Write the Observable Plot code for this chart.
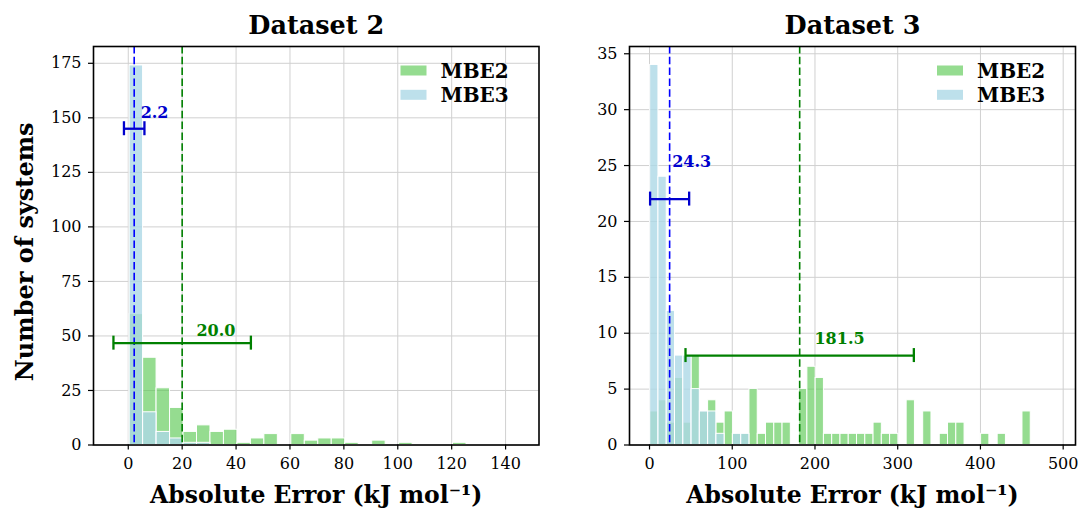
<!DOCTYPE html>
<html><head><meta charset="utf-8">
<script src="https://cdn.jsdelivr.net/npm/d3@7"></script>
<script src="https://cdn.jsdelivr.net/npm/@observablehq/plot@0.6"></script>
<style>
html,body{margin:0;padding:0;background:#fff;}
#chart{position:relative;width:1081px;height:509px;display:flex;}
#chart svg{display:block;}
</style></head><body><div id="chart"></div>
<script>
// ---------- Data ----------
const seriesNames = ["MBE2", "MBE3"];
const titles = ["Dataset 2", "Dataset 3"];
const xLabel = "Absolute Error (kJ mol⁻¹)";
const yLabel = "Number of systems";

// Dataset 2 histogram (bin left edges, bin width 5)
const ds2Edges = [0.5,5.5,10.5,15.5,20.5,25.5,30.5,35.5,40.5,45.5,50.5,55.5,60.5,65.5,70.5,75.5,80.5,85.5,90.5,95.5,100.5,105.5,110.5,115.5,120.5];
const ds2BinWidth = 5;
const ds2MBE2 = [60,40,26,17,6,9,6,7,1,3,5,0,5,2,3,3,1,0,2,0,1,0,0,0,1];
const ds2MBE3 = [174,15,6,3,1,1,0,0,0,0,0,0,0,0,0,0,0,0,0,0,0,0,0,0,0];
const ds2Mean = {MBE2: 20.0, MBE3: 2.2};
const ds2Std = {MBE2: 25.5, MBE3: 3.8};
const ds2ErrY = {MBE2: 46.7, MBE3: 145};
const ds2LabelX = {MBE2: 25.3, MBE3: 4.6};
const ds2LabelY = {MBE2: 50, MBE3: 150};
const ds2XTicks = [0,20,40,60,80,100,120,140];
const ds2YTicks = [0,25,50,75,100,125,150,175];

// Dataset 3 histogram (bin left edges, bin width 10)
const ds3Edges = [0.8,10.8,20.8,30.8,40.8,50.8,60.8,70.8,80.8,90.8,100.8,110.8,120.8,130.8,140.8,150.8,160.8,170.8,180.8,190.8,200.8,210.8,220.8,230.8,240.8,250.8,260.8,270.8,280.8,290.8,300.8,310.8,320.8,330.8,340.8,350.8,360.8,370.8,380.8,390.8,400.8,410.8,420.8,430.8,440.8,450.8];
const ds3BinWidth = 10;
const ds3MBE2 = [3,4,2,6,2,8,3,4,2,3,1,1,5,1,2,2,2,0,5,7,6,1,1,1,1,1,1,2,1,1,0,4,0,3,0,1,2,2,0,0,1,0,1,0,0,3];
const ds3MBE3 = [34,24,12,8,8,5,3,3,1,0,1,1,0,0,0,0,0,0,0,0,0,0,0,0,0,0,0,0,0,0,0,0,0,0,0,0,0,0,0,0,0,0,0,0,0,0];
const ds3Mean = {MBE2: 181.5, MBE3: 24.3};
const ds3Std = {MBE2: 138, MBE3: 23.6};
const ds3ErrY = {MBE2: 8, MBE3: 22};
const ds3LabelX = {MBE2: 199.4, MBE3: 27.4};
const ds3LabelY = {MBE2: 9.05, MBE3: 24.9};
const ds3XTicks = [0,100,200,300,400,500];
const ds3YTicks = [0,5,10,15,20,25,30,35];

// ---------- Styles ----------
const GREEN_FILL = "#5cc955", GREEN_OP = 0.65;
const BLUE_FILL = "#add8e6", BLUE_OP = 0.8;
const LINE_COL = {MBE2: "#008000", MBE3: "#0000ff"};
const ERR_COL = {MBE2: "#008000", MBE3: "#0000cd"};
const FONT = "DejaVu Serif";

const patchSymbol = {draw(ctx){ ctx.rect(-13, -5, 26, 10); }};

function panel(cfg) {
  const bars = (edges, counts, bw) => edges.map((e, i) => ({x1: e, x2: e + bw, y: counts[i]})).filter(d => d.y > 0);
  const b2 = bars(cfg.edges, cfg.mbe2, cfg.bw);
  const b3 = bars(cfg.edges, cfg.mbe3, cfg.bw);
  const stats = seriesNames.map(s => ({s, mean: cfg.mean[s], lo: cfg.mean[s] - cfg.std[s], hi: cfg.mean[s] + cfg.std[s], y: cfg.errY[s], lx: cfg.labelX[s], ly: cfg.labelY[s], label: cfg.mean[s].toFixed(1)}));
  const caps = stats.flatMap(d => [{s: d.s, x: d.lo, y: d.y}, {s: d.s, x: d.hi, y: d.y}]);
  const legend = [{s: "MBE2", fill: GREEN_FILL, op: GREEN_OP, dy: 24}, {s: "MBE3", fill: BLUE_FILL, op: BLUE_OP, dy: 48.3}];
  const marks = [
    Plot.gridX(cfg.xTicks, {stroke: "#d0d0d0", strokeOpacity: 1, strokeWidth: 1}),
    Plot.gridY(cfg.yTicks, {stroke: "#d0d0d0", strokeOpacity: 1, strokeWidth: 1}),
    Plot.rectY(b2, {x1: "x1", x2: "x2", y: "y", fill: GREEN_FILL, fillOpacity: GREEN_OP, stroke: "white", strokeWidth: 1}),
    Plot.rectY(b3, {x1: "x1", x2: "x2", y: "y", fill: BLUE_FILL, fillOpacity: BLUE_OP, stroke: "white", strokeWidth: 1}),
    Plot.ruleX(stats, {x: "mean", stroke: d => LINE_COL[d.s], strokeWidth: 1.6, strokeDasharray: "7.5,3.3"}),
    Plot.ruleY(stats, {y: "y", x1: "lo", x2: "hi", stroke: d => ERR_COL[d.s], strokeWidth: 2.3}),
    Plot.ruleX(caps, {x: "x", y1: "y", y2: "y", insetTop: -7, insetBottom: -7, stroke: d => ERR_COL[d.s], strokeWidth: 2.3}),
    Plot.text(stats, {x: "lx", y: "ly", text: "label", fill: d => ERR_COL[d.s], textAnchor: "start", lineAnchor: "bottom", fontSize: 16, fontWeight: "bold", fontFamily: FONT}),
    Plot.axisX(cfg.xTicks, {tickSize: 5, tickPadding: 8, fontSize: 16, fontFamily: FONT, strokeWidth: 1.2, label: null}),
    Plot.axisY(cfg.yTicks, {tickSize: 5, tickPadding: 7, fontSize: 16, fontFamily: FONT, strokeWidth: 1.2, label: null}),
    Plot.frame({stroke: "black", strokeWidth: 1.6}),
    Plot.text([cfg.title], {frameAnchor: "top", dy: -13, lineAnchor: "bottom", fontSize: 25.5, fontWeight: "bold", fontFamily: FONT, letterSpacing: "1.1px"}),
    Plot.text([xLabel], {frameAnchor: "bottom", dy: 57.5, lineAnchor: "bottom", fontSize: 23.5, fontWeight: "bold", fontFamily: FONT, letterSpacing: "1.4px"})
  ];
  legend.forEach(l => {
    marks.push(Plot.dot([l], {frameAnchor: "top-right", dx: -125.5, dy: l.dy, symbol: patchSymbol, fill: l.fill, fillOpacity: l.op, r: 5}));
    marks.push(Plot.text([l.s], {frameAnchor: "top-right", dx: -98.5, dy: l.dy + 7, textAnchor: "start", lineAnchor: "bottom", fontSize: 20, fontWeight: "bold", fontFamily: FONT, letterSpacing: "1.6px"}));
  });
  if (cfg.showYLabel) {
    marks.push(Plot.text([yLabel], {frameAnchor: "left", dx: -61, dy: 6, rotate: -90, textAnchor: "middle", lineAnchor: "bottom", fontSize: 24, fontWeight: "bold", fontFamily: FONT, letterSpacing: "2.7px"}));
  }
  return Plot.plot({
    width: cfg.w, height: 509,
    marginLeft: cfg.ml, marginRight: cfg.mr, marginTop: 46, marginBottom: 64.5,
    style: {fontFamily: FONT, background: "white", color: "black", overflow: "visible"},
    x: {domain: cfg.xDomain},
    y: {domain: cfg.yDomain},
    marks
  });
}

const chart = document.getElementById("chart");
chart.appendChild(panel({title: titles[0], edges: ds2Edges, bw: ds2BinWidth, mbe2: ds2MBE2, mbe3: ds2MBE3, mean: ds2Mean, std: ds2Std, errY: ds2ErrY, labelX: ds2LabelX, labelY: ds2LabelY, xTicks: ds2XTicks, yTicks: ds2YTicks, xDomain: [-12.9, 152.4], yDomain: [0, 182.7], showYLabel: true, w: 560, ml: 93, mr: 21.5}));
chart.appendChild(panel({title: titles[1], edges: ds3Edges, bw: ds3BinWidth, mbe2: ds3MBE2, mbe3: ds3MBE3, mean: ds3Mean, std: ds3Std, errY: ds3ErrY, labelX: ds3LabelX, labelY: ds3LabelY, xTicks: ds3XTicks, yTicks: ds3YTicks, xDomain: [-24.2, 514.9], yDomain: [0, 35.65], showYLabel: false, w: 521, ml: 69, mr: 6}));
</script></body></html>
